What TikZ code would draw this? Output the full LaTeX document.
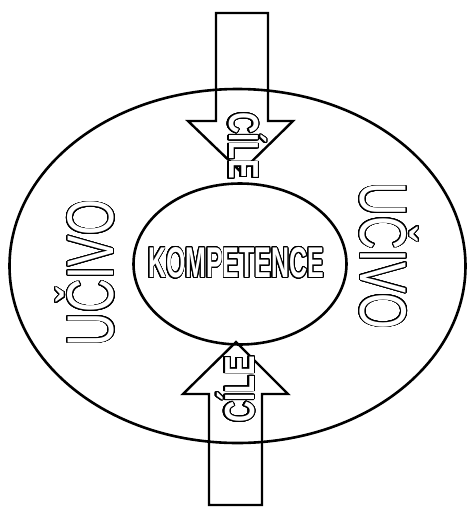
\documentclass[tikz,border=0pt]{standalone}
\usepackage{fontspec}
\setmainfont{Liberation Sans}
\usepackage{contour}
\usetikzlibrary{shapes.geometric}
\contournumber{32}
\tikzset{
  ring/.style={ellipse, draw, line width=2.6pt, inner sep=0pt},
  bigarrow/.style={draw, line width=2.4pt, line join=miter},
  hollow/.style={inner sep=0pt, text depth=0pt},
}
\newcommand{\outl}[3]{{\contourlength{#1}\color{white}\scalebox{#2}[1]{\contour{black}{#3}}}}
\begin{document}
\begin{tikzpicture}[x=1pt,y=-1pt]
\useasboundingbox[fill=white] (0,0) rectangle (468,507);
% outer and inner ellipses
\node[ring, minimum width=456pt, minimum height=354pt] (outer) at (237.5,266) {};
\node[ring, minimum width=213pt, minimum height=161pt] (inner) at (240,264) {};
% top arrow
\draw[bigarrow] (216,13) -- (216,121) -- (188,121) -- (241,172) -- (293,121) -- (268,121) -- (268,13) -- cycle;
% bottom arrow
\draw[bigarrow] (209,505) -- (209,394) -- (183,394) -- (236,342) -- (288,394) -- (262,394) -- (262,505) -- cycle;
% texts
\node[hollow, text height=31pt] (komp) at (236,262)
  {\fontsize{43}{43}\selectfont\bfseries\outl{1.3pt}{0.58}{KOMPETENCE}};
\node[hollow, text height=30pt, rotate=-90] (cile1) at (244,146)
  {\fontsize{42}{42}\selectfont\bfseries\outl{1.2pt}{0.7}{CÍLE}};
\node[hollow, text height=30pt, rotate=90] (cile2) at (239,389)
  {\fontsize{42}{42}\selectfont\bfseries\outl{1.2pt}{0.7}{CÍLE}};
\node[hollow, text height=47pt, rotate=90] (ucivo1) at (90,273)
  {\fontsize{66}{66}\selectfont\outl{1pt}{0.7}{UČIVO}};
\node[hollow, text height=47pt, rotate=-90] (ucivo2) at (384,256)
  {\fontsize{66}{66}\selectfont\outl{1pt}{0.7}{UČIVO}};
\end{tikzpicture}
\end{document}
